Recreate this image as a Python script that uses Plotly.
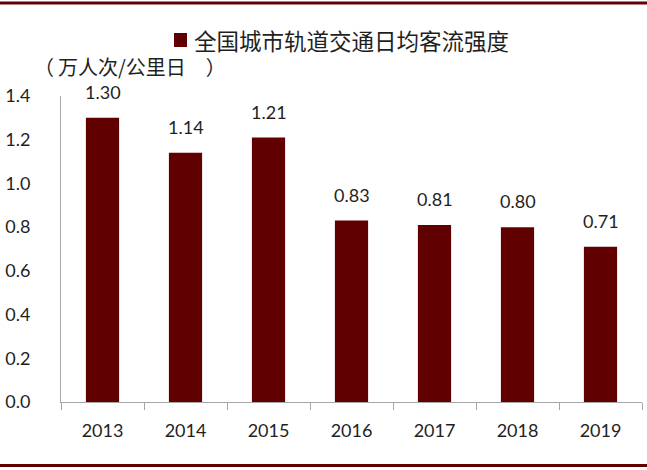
import plotly.graph_objects as go

years = ["2013", "2014", "2015", "2016", "2017", "2018", "2019"]
intensity = [1.30, 1.14, 1.21, 0.83, 0.81, 0.80, 0.71]
value_labels = ["1.30", "1.14", "1.21", "0.83", "0.81", "0.80", "0.71"]
y_ticks = [0.0, 0.2, 0.4, 0.6, 0.8, 1.0, 1.2, 1.4]
y_tick_text = ["0.0", "0.2", "0.4", "0.6", "0.8", "1.0", "1.2", "1.4"]
series_name = "全国城市轨道交通日均客流强度"
unit_label = "（\u2009万人次/公里日\u3000）"

BAR = "#600000"
TXT = "#1f1f1f"
AX = "#a6a6a6"
NUM_FONT = "Lato, 'Liberation Sans', sans-serif"
CJK_FONT = "'Noto Sans CJK SC', sans-serif"

W, H = 647, 470
L, R, T, B = 61, 5, 96, 68
PW, PH = W - L - R, H - T - B

def px(x):
    return (x - L) / PW

def py(y):
    return (H - B - y) / PH

fig = go.Figure()
fig.add_trace(go.Bar(
    x=years, y=intensity, name=series_name,
    marker=dict(color=BAR, line=dict(width=0)),
    showlegend=False,
))

annotations = []
for i, (v, lab) in enumerate(zip(intensity, value_labels)):
    annotations.append(dict(
        x=i, y=v, xref="x", yref="y", text=lab, showarrow=False,
        yanchor="middle", yshift=26,
        font=dict(family=NUM_FONT, size=18, color=TXT),
    ))

annotations.append(dict(
    x=px(192), y=py(40), xref="paper", yref="paper", text=series_name,
    showarrow=False, xanchor="left", yanchor="middle",
    font=dict(family=CJK_FONT, size=22.5, color=TXT),
))
annotations.append(dict(
    x=px(32), y=py(67), xref="paper", yref="paper", text=unit_label,
    showarrow=False, xanchor="left", yanchor="middle",
    font=dict(family=CJK_FONT, size=20, color=TXT),
))

shapes = [
    dict(type="line", xref="paper", yref="paper", x0=px(0), x1=px(W),
         y0=py(3), y1=py(3), line=dict(color=BAR, width=3)),
    dict(type="line", xref="paper", yref="paper", x0=px(0), x1=px(W),
         y0=py(465.5), y1=py(465.5), line=dict(color=BAR, width=3)),
    dict(type="rect", xref="paper", yref="paper", x0=px(174), x1=px(187),
         y0=py(47), y1=py(33), fillcolor=BAR, line=dict(width=0)),
]

fig.update_layout(
    width=W, height=H,
    margin=dict(l=L, r=R, t=T, b=B),
    paper_bgcolor="white", plot_bgcolor="white",
    bargap=0.6,
    annotations=annotations,
    shapes=shapes,
    xaxis=dict(
        type="category", range=[-0.5, len(years) - 0.5],
        showline=True, linecolor=AX, linewidth=1,
        ticks="outside", tickson="boundaries", ticklen=7, tickcolor=AX,
        showgrid=False, ticklabelstandoff=12, tickangle=0,
        tickfont=dict(family=NUM_FONT, size=18, color=TXT),
    ),
    yaxis=dict(
        range=[0, 1.4], tickvals=y_ticks, ticktext=y_tick_text,
        showline=True, linecolor=AX, linewidth=1, ticks="",
        showgrid=False, zeroline=False, ticklabelstandoff=26,
        tickfont=dict(family=NUM_FONT, size=18, color=TXT),
    ),
)

fig.write_html(
    "out.html",
    config={"displayModeBar": False},
    post_script="document.body.style.margin='0';document.body.style.overflow='hidden';",
)
